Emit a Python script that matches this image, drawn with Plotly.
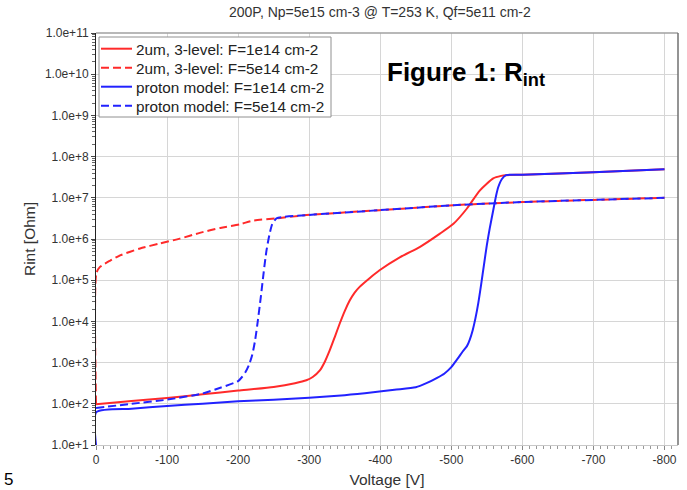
import plotly.graph_objects as go

# Interstrip resistance vs bias voltage (200P sensor, T=253 K)
title_text = "200P, Np=5e15 cm-3 @ T=253 K, Qf=5e11 cm-2"

# 2um, 3-level model, F=1e14 cm-2
v_3lvl_1e14 = [0, -50, -100, -150, -200, -250, -280, -296, -305, -315, -322, -329,
               -336, -343, -350, -357, -364, -371, -385, -399, -428, -456, -484,
               -503, -522, -540, -559, -570, -577, -600, -700, -800]
r_3lvl_1e14 = [98, 117, 138, 170, 209, 257, 316, 372, 447, 646, 1050, 2000,
               4170, 8900, 17800, 32000, 50000, 69000, 112000, 174000, 363000,
               646000, 1.35e6, 2.34e6, 5.5e6, 1.5e7, 2.95e7, 3.4e7, 3.55e7,
               3.63e7, 4.17e7, 4.9e7]

# 2um, 3-level model, F=5e14 cm-2
v_3lvl_5e14 = [0, -0.5, -5.6, -20, -34, -62, -90, -118, -146, -175, -203, -221,
               -254, -296, -399, -503, -601, -700, -800]
r_3lvl_5e14 = [100, 1.48e5, 2.1e5, 3.0e5, 4.0e5, 5.9e5, 7.8e5, 1.02e6, 1.41e6,
               1.86e6, 2.29e6, 2.8e6, 3.16e6, 3.8e6, 5.0e6, 6.6e6, 7.9e6, 8.9e6, 1.0e7]

# proton model, F=1e14 cm-2
v_prot_1e14 = [0, -0.5, -50, -100, -150, -200, -250, -300, -350, -390, -420, -450,
               -465, -480, -490, -500, -510, -516, -522, -526, -530, -534, -538,
               -542, -546, -550, -554, -559, -563, -566, -571, -577, -600, -700, -800]
r_prot_1e14 = [10, 63, 76, 89, 100, 115, 126, 141, 162, 190, 219, 251, 316, 427,
               537, 776, 1320, 1860, 2510, 3630, 6030, 12000, 28200, 79400, 240000,
               708000, 1.78e6, 5.0e6, 1.12e7, 1.8e7, 2.82e7, 3.55e7, 3.63e7, 4.17e7, 4.9e7]

# proton model, F=5e14 cm-2
v_prot_5e14 = [0, -50, -100, -150, -175, -200, -205, -210, -215, -220, -224, -228,
               -232, -236, -240, -244, -248, -254, -296, -399, -503, -601, -700, -800]
r_prot_5e14 = [79, 100, 126, 178, 245, 355, 437, 575, 851, 1580, 3550, 11200,
               39800, 158000, 537000, 1.26e6, 2.29e6, 3.16e6, 3.8e6, 5.0e6, 6.6e6,
               7.9e6, 8.9e6, 1.0e7]

x_ticks = [0, -100, -200, -300, -400, -500, -600, -700, -800]

RED = "#ff2a2a"
BLUE = "#2222ff"
DASH = "8px,4px"
FONT = "Liberation Sans, Arial, sans-serif"

series = [
    ("2um, 3-level: F=1e14 cm-2", v_3lvl_1e14, r_3lvl_1e14, RED, "solid"),
    ("2um, 3-level: F=5e14 cm-2", v_3lvl_5e14, r_3lvl_5e14, RED, DASH),
    ("proton model: F=1e14 cm-2", v_prot_1e14, r_prot_1e14, BLUE, "solid"),
    ("proton model: F=5e14 cm-2", v_prot_5e14, r_prot_5e14, BLUE, DASH),
]

W, H = 687, 490
ML, MR, MT, MB = 96, 9, 33, 45
PW, PH = W - ML - MR, H - MT - MB


def px(xp):
    """page x pixel -> paper fraction"""
    return (xp - ML) / PW


def py(yp):
    """page y pixel -> paper fraction"""
    return (H - MB - yp) / PH


fig = go.Figure()
for name, v, r, color, dash in series:
    fig.add_trace(go.Scatter(
        x=v, y=r, name=name, mode="lines", showlegend=False,
        line=dict(color=color, width=2, dash=dash, shape="spline", smoothing=0.6),
    ))

fig.update_layout(
    width=W, height=H,
    margin=dict(l=ML, r=MR, t=MT, b=MB, autoexpand=False),
    paper_bgcolor="white", plot_bgcolor="white",
    font=dict(family=FONT, size=12, color="#333333"),
    title=dict(text=title_text, x=0.553, xanchor="center", y=0.975, yanchor="middle",
               font=dict(size=14, color="#333333")),
)

fig.update_xaxes(
    range=[0, -819], automargin=False,
    tickvals=x_ticks, ticktext=[str(t) for t in x_ticks],
    showgrid=True, gridcolor="#d6d6d6", gridwidth=1, zeroline=False,
    showline=True, linecolor="#c8c8c8", linewidth=1, mirror=False,
    ticks="outside", ticklen=4, tickcolor="#888888",
    minor=dict(dtick=10, ticks="outside", ticklen=3, tickcolor="#999999", showgrid=False),
    tickfont=dict(size=12, color="#333333"),
    title=dict(text="Voltage [V]", font=dict(size=15.5, color="#333333"), standoff=7),
)

fig.update_yaxes(
    type="log", range=[1, 11], dtick=1, tickformat=".1e", automargin=False,
    showgrid=True, gridcolor="#d6d6d6", gridwidth=1, zeroline=False,
    showline=True, linecolor="#222222", linewidth=1, mirror=False,
    ticks="outside", ticklen=4, tickcolor="#444444",
    minor=dict(ticks="outside", ticklen=3, tickcolor="#666666", showgrid=False),
    tickfont=dict(size=12, color="#333333"),
    title=dict(text="Rint [Ohm]", font=dict(size=15.5, color="#333333"), standoff=5),
)

# gray frame on the top and right edges of the plot area
fig.add_shape(type="line", xref="paper", yref="paper", x0=0, x1=1, y0=1, y1=1,
              line=dict(color="#a0a0a0", width=1.5))
fig.add_shape(type="line", xref="paper", yref="paper", x0=1, x1=1, y0=0, y1=1,
              line=dict(color="#707070", width=1.5))

# legend box with line samples and labels
fig.add_shape(type="rect", xref="paper", yref="paper",
              x0=px(99), x1=px(331), y0=py(117), y1=py(37),
              fillcolor="white", line=dict(color="#909090", width=1))
for i, (name, _, _, color, dash) in enumerate(series):
    row_y = 48.7 + 19 * i
    fig.add_shape(type="line", xref="paper", yref="paper",
                  x0=px(101), x1=px(132), y0=py(row_y), y1=py(row_y),
                  line=dict(color=color, width=2, dash=dash))
    fig.add_annotation(text=name, xref="paper", yref="paper",
                       x=px(134), y=py(row_y + 0.5), xanchor="left", yanchor="middle",
                       showarrow=False, font=dict(family=FONT, size=15.3, color="#222222"))

# white panel behind the figure caption, drawn between grid and traces
fig.add_shape(type="rect", xref="paper", yref="paper", layer="between",
              x0=px(365), x1=px(577), y0=py(107), y1=py(45),
              fillcolor="white", line=dict(width=0))
fig.add_annotation(
    text="<b>Figure 1: R<sub>int</sub></b>",
    xref="paper", yref="paper", x=px(385), y=py(74), xanchor="left", yanchor="middle",
    showarrow=False, font=dict(family=FONT, size=26, color="#000000"),
)

fig.add_annotation(
    text="5", xref="paper", yref="paper", x=px(2), y=py(479),
    xanchor="left", yanchor="middle", showarrow=False,
    font=dict(family=FONT, size=17, color="#000000"),
)

fig.write_html("out.html")
